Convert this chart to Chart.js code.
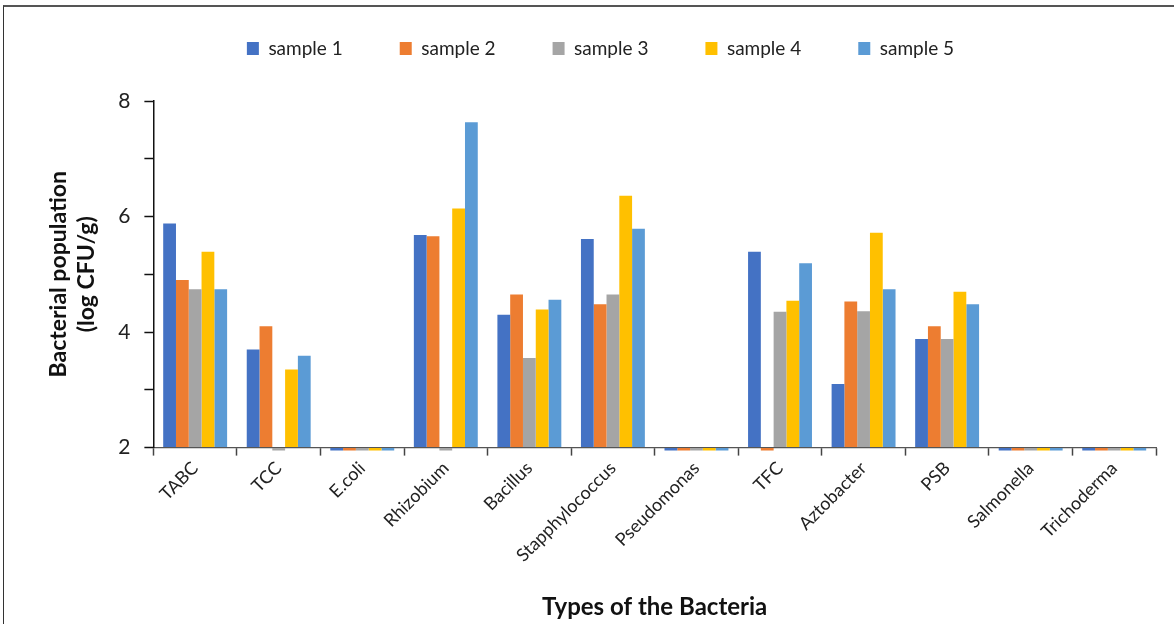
<!DOCTYPE html>
<html>
<head>
<meta charset="utf-8">
<script src="https://cdn.jsdelivr.net/npm/chart.js@4"></script>
<style>
  html, body { margin: 0; padding: 0; background: #fff; }
  #frame { position: absolute; left: 3px; top: 5px; width: 1180px; height: 630px;
           border-left: 1px solid #333; border-top: 2px solid #555; }
  #wrap { position: absolute; left: 0; top: 0; width: 1174px; height: 624px; }
</style>
</head>
<body>
<div id="frame"></div>
<div id="wrap"><canvas id="chart1"></canvas></div>
<script>
// bacteria types on the x axis
const categories = ['TABC', 'TCC', 'E.coli', 'Rhizobium', 'Bacillus', 'Stapphylococcus',
  'Pseudomonas', 'TFC', 'Aztobacter', 'PSB', 'Salmonella', 'Trichoderma'];

// log CFU/g per sample (0 = not detected)
const sample1 = [5.88, 3.70, 0, 5.68, 4.30, 5.61, 0, 5.39, 3.10, 3.88, 0, 0];
const sample2 = [4.90, 4.10, 0, 5.66, 4.65, 4.48, 0, 0, 4.53, 4.10, 0, 0];
const sample3 = [4.74, 0, 0, 0, 3.55, 4.65, 0, 4.35, 4.36, 3.88, 0, 0];
const sample4 = [5.39, 3.35, 0, 6.14, 4.39, 6.36, 0, 4.54, 5.72, 4.70, 0, 0];
const sample5 = [4.74, 3.59, 0, 7.63, 4.56, 5.79, 0, 5.19, 4.74, 4.48, 0, 0];

const seriesNames = ['sample 1', 'sample 2', 'sample 3', 'sample 4', 'sample 5'];
const seriesColors = ['#4472C4', '#ED7D31', '#A5A5A5', '#FFC000', '#5B9BD5'];
const yTickLabels = ['2', '4', '6', '8'];
const yMin = 2;

const font = "Lato, 'Open Sans', sans-serif";
const allSeries = [sample1, sample2, sample3, sample4, sample5];

// bars grow from the axis floor; zeros hang below it and get clipped to a thin strip
var datasets = allSeries.map((vals, i) => ({
  label: seriesNames[i],
  data: vals,
  base: yMin,
  backgroundColor: seriesColors[i],
  borderWidth: 0,
  barPercentage: 1,
  categoryPercentage: 0.765,
  clip: {left: 5, right: 5, top: 5, bottom: 3}
}));

// legend needs wide gaps between items but must sit high above the plot
const legendFix = {
  id: 'legendFix',
  beforeInit(chart) {
    const fit = chart.legend.fit;
    chart.legend.fit = function() {
      fit.bind(chart.legend)();
      this.height = 119;
    };
  }
};

new Chart(document.getElementById('chart1'), {
  type: 'bar',
  data: { labels: categories, datasets: datasets },
  plugins: [legendFix],
  options: {
    responsive: true,
    maintainAspectRatio: false,
    animation: false,
    layout: { padding: { left: 45, right: 18, top: -18, bottom: 2 } },
    plugins: {
      tooltip: { enabled: false },
      legend: {
        position: 'top',
        labels: {
          boxWidth: 12, boxHeight: 13, padding: 57,
          color: '#222',
          font: { family: font, size: 19 }
        }
      }
    },
    scales: {
      x: {
        grid: { display: true, drawOnChartArea: false, offset: true,
                color: '#444', tickLength: 8, tickWidth: 1.5 },
        border: { display: true, color: '#555', width: 1.2 },
        ticks: { color: '#222', font: { family: font, size: 18 },
                 minRotation: 45, maxRotation: 45, padding: 2 },
        title: { display: true, text: 'Types of the Bacteria', color: '#111',
                 font: { family: font, size: 24, weight: 'bold' }, padding: { top: 25, bottom: 0 } }
      },
      y: {
        min: yMin, max: 8,
        grid: { display: true, drawOnChartArea: false, color: '#111', tickLength: 9, tickWidth: 1.5 },
        border: { display: true, color: '#111', width: 1.5 },
        ticks: {
          stepSize: 1, color: '#222', padding: 14, autoSkip: false,
          font: { family: font, size: 21 },
          callback: function(v) { return yTickLabels.indexOf(String(v)) >= 0 ? String(v) : ''; }
        },
        title: { display: true, text: ['Bacterial population', '(log CFU/g)'], color: '#111',
                 font: { family: font, size: 23, weight: 'bold', lineHeight: 1.2 }, padding: { top: 0, bottom: 4 } }
      }
    }
  }
});
</script>
</body>
</html>
